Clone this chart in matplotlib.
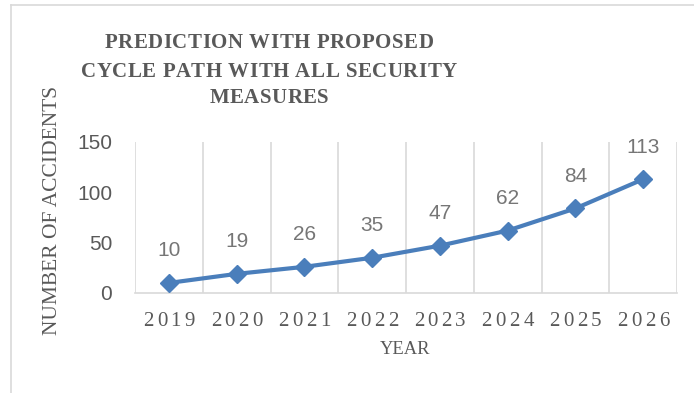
import matplotlib
matplotlib.use('Agg')
import matplotlib.pyplot as plt
from matplotlib.lines import Line2D

# data
years = ['2019', '2020', '2021', '2022', '2023', '2024', '2025', '2026']
accidents = [10, 19, 26, 35, 47, 62, 84, 113]
title_lines = ['PREDICTION WITH PROPOSED', 'CYCLE PATH WITH ALL SECURITY', 'MEASURES']

W, H = 694, 393
fig = plt.figure(figsize=(W / 100, H / 100), dpi=100)
renderer = fig.canvas.get_renderer()

serif = 'Liberation Serif'
sans = 'Liberation Sans'
grey = '#595959'

def text_width(s, **kw):
  t = fig.text(0, 0, s, **kw)
  w = t.get_window_extent(renderer).width
  t.remove()
  return w

def spaced_text(xc, ybase, s, spacing, **kw):
  """
  Draw a string letter by letter (pixel coords from the top left) with extra tracking,
  centred horizontally on xc.
  """
  ref = text_width('||', **kw)
  widths = [text_width('|' + ch + '|', **kw) - ref for ch in s]
  total = sum(widths) + spacing * (len(s) - 1)
  x = xc - total / 2
  for ch, w in zip(s, widths):
    if ch != ' ':
      fig.text(x / W, 1 - ybase / H, ch, ha='left', va='baseline', **kw)
    x += w + spacing

# chart frame (partly cut off in the original)
fig.add_artist(Line2D([11 / W, 1], [1 - 5 / H, 1 - 5 / H], color='#d9d9d9', lw=1.2))
fig.add_artist(Line2D([11 / W, 11 / W], [0, 1 - 5 / H], color='#d9d9d9', lw=1.2))

left, right, top, bottom = 135, 677, 142, 293
ax = fig.add_axes([left / W, 1 - bottom / H, (right - left) / W, (bottom - top) / H])

x = list(range(len(years)))
ax.plot(x, accidents, color='#4a7ebb', lw=3, marker='D', markersize=9.5, zorder=3, clip_on=False)
for xi, v in zip(x, accidents):
  ax.annotate(str(v), (xi, v), xytext=(0, 32), textcoords='offset pixels', ha='center', va='center',
              fontsize=15, family=sans, color='#767676')

ax.set_xlim(-0.5, len(years) - 0.5)
ax.set_ylim(0, 150)
ax.set_yticks([0, 50, 100, 150])
ax.set_xticks([])
for b in range(len(years) + 1):
  ax.axvline(b - 0.5, color='#d9d9d9', lw=1.2, zorder=1)
for side in ['top', 'right', 'left']:
  ax.spines[side].set_visible(False)
ax.spines['bottom'].set_color('#d9d9d9')
ax.spines['bottom'].set_linewidth(1.2)
ax.tick_params(axis='y', length=0, pad=16.5, labelsize=15, labelcolor=grey)
for lab in ax.get_yticklabels():
  lab.set_family(sans)

# letter-spaced year labels
cat_w = (right - left) / len(years)
for i, y in enumerate(years):
  spaced_text(left + cat_w * (i + 0.5), 326, y, 3.5, fontsize=15, family=serif, color=grey)

# title
for line, base in zip(title_lines, [48, 77, 103]):
  spaced_text(269, base, line, 0.5, fontsize=15, family=serif, weight='bold', color=grey)

fig.text(53 / W, 1 - 210 / H, 'NUMBER OF ACCIDENTS', rotation=90, ha='center', va='center',
         fontsize=15.5, family=serif, color=grey)
fig.text(405 / W, 1 - 350 / H, 'YEAR', ha='center', va='center', fontsize=13.3, family=serif, color=grey)

fig.savefig('out.png', dpi=100)
